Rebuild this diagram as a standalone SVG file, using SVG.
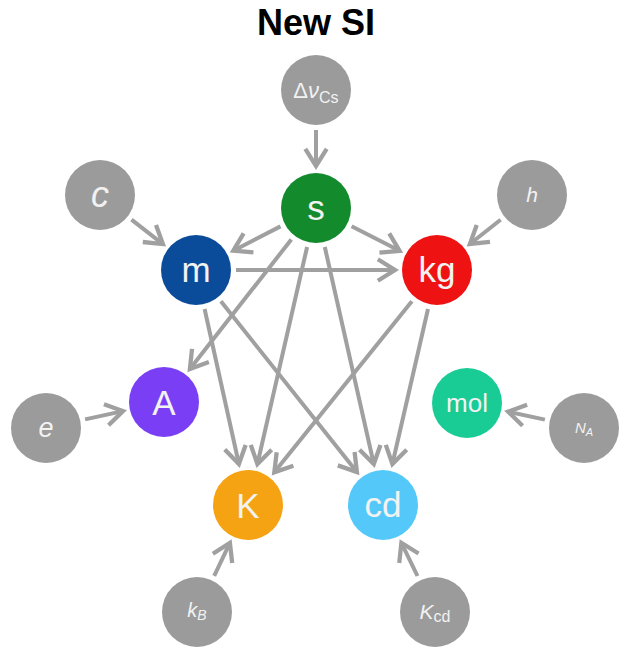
<svg xmlns="http://www.w3.org/2000/svg" width="620" height="650" viewBox="0 0 620 650">
<style>
.bg{fill:#ffffff}
.title{font-family:"Liberation Sans",Arial,sans-serif;font-weight:bold;font-size:36px;fill:#000}
.g circle{fill:#9b9b9b}
.lbl{font-family:"Liberation Sans",Arial,sans-serif;fill:#f2f2f2;text-anchor:middle}
.big{font-size:35px}
.it{font-style:italic}
.edge{stroke:#a0a0a0;stroke-width:4;fill:none;marker-end:url(#arr)}
</style>
<defs>
<marker id="arr" markerUnits="userSpaceOnUse" markerWidth="30" markerHeight="30" viewBox="-20 -14 26 28" refX="0" refY="0" orient="auto">
<path d="M-16,-10 L0,0 L-16,10" stroke="#a0a0a0" stroke-width="4" fill="none"/>
</marker>
</defs>
<rect class="bg" width="620" height="650"/>
<text class="title" x="316" y="35" text-anchor="middle">New SI</text>
<g id="connectors">
<line class="edge" x1="316" y1="130" x2="316" y2="166"/>
<line class="edge" x1="131.5" y1="219.6" x2="162.9" y2="244.1"/>
<line class="edge" x1="500.6" y1="219.8" x2="469.9" y2="244"/>
<line class="edge" x1="85.1" y1="419.4" x2="123" y2="411.1"/>
<line class="edge" x1="544.9" y1="419.6" x2="508.1" y2="411.7"/>
<line class="edge" x1="214.2" y1="575.9" x2="229.9" y2="542.9"/>
<line class="edge" x1="417.5" y1="576" x2="401.4" y2="542.8"/>
<line class="edge" x1="280.5" y1="226.4" x2="233.3" y2="250.7"/>
<line class="edge" x1="351.6" y1="226.2" x2="399.6" y2="250.8"/>
<line class="edge" x1="291.3" y1="239.5" x2="189.9" y2="369"/>
<line class="edge" x1="307.1" y1="247" x2="257.4" y2="464"/>
<line class="edge" x1="324.8" y1="247" x2="373.8" y2="464"/>
<line class="edge" x1="236" y1="270" x2="395" y2="270"/>
<line class="edge" x1="204.6" y1="309" x2="238.9" y2="464"/>
<line class="edge" x1="220.9" y1="301.3" x2="356.9" y2="472.1"/>
<line class="edge" x1="411.9" y1="301.2" x2="274.3" y2="472.3"/>
<line class="edge" x1="428" y1="309" x2="392.4" y2="464"/>
</g>
<g id="dnuCs" class="g"><circle cx="316" cy="90" r="35"/><text class="lbl" x="316" y="98" font-size="22">Δ<tspan class="it">ν</tspan><tspan font-size="16" dy="5">Cs</tspan></text></g>
<g id="c" class="g"><circle cx="100" cy="195" r="35"/><text class="lbl it" x="100" y="207" font-size="36">c</text></g>
<g id="h" class="g"><circle cx="532" cy="195" r="35"/><text class="lbl it" x="532" y="202" font-size="21">h</text></g>
<g id="e" class="g"><circle cx="46" cy="428" r="35"/><text class="lbl it" x="46" y="437" font-size="27">e</text></g>
<g id="NA" class="g"><circle cx="584" cy="428" r="35"/><text class="lbl it" x="584" y="433" font-size="15">N<tspan font-size="11" dy="3">A</tspan></text></g>
<g id="kB" class="g"><circle cx="197" cy="612" r="35"/><text class="lbl it" x="197" y="617" font-size="20">k<tspan font-size="14" dy="3">B</tspan></text></g>
<g id="Kcd" class="g"><circle cx="435" cy="612" r="35"/><text class="lbl" x="435" y="619" font-size="21"><tspan class="it">K</tspan><tspan font-size="16" dy="3">cd</tspan></text></g>
<g id="s"><circle cx="316" cy="208" r="35" fill="#138a2c"/><text class="lbl big" x="316" y="220">s</text></g>
<g id="m"><circle cx="196" cy="270" r="35" fill="#0b4c9a"/><text class="lbl big" x="196" y="282">m</text></g>
<g id="kg"><circle cx="437" cy="270" r="35" fill="#ef1212"/><text class="lbl big" x="437" y="282">kg</text></g>
<g id="A"><circle cx="164" cy="402" r="35" fill="#7a3ff5"/><text class="lbl big" x="164" y="415">A</text></g>
<g id="mol"><circle cx="467" cy="403" r="35" fill="#19cc96"/><text class="lbl" x="467" y="412" font-size="26">mol</text></g>
<g id="K"><circle cx="248" cy="505" r="35" fill="#f5a313"/><text class="lbl big" x="248" y="518">K</text></g>
<g id="cd"><circle cx="383" cy="505" r="35" fill="#55c8fa"/><text class="lbl big" x="383" y="517">cd</text></g>
</svg>
